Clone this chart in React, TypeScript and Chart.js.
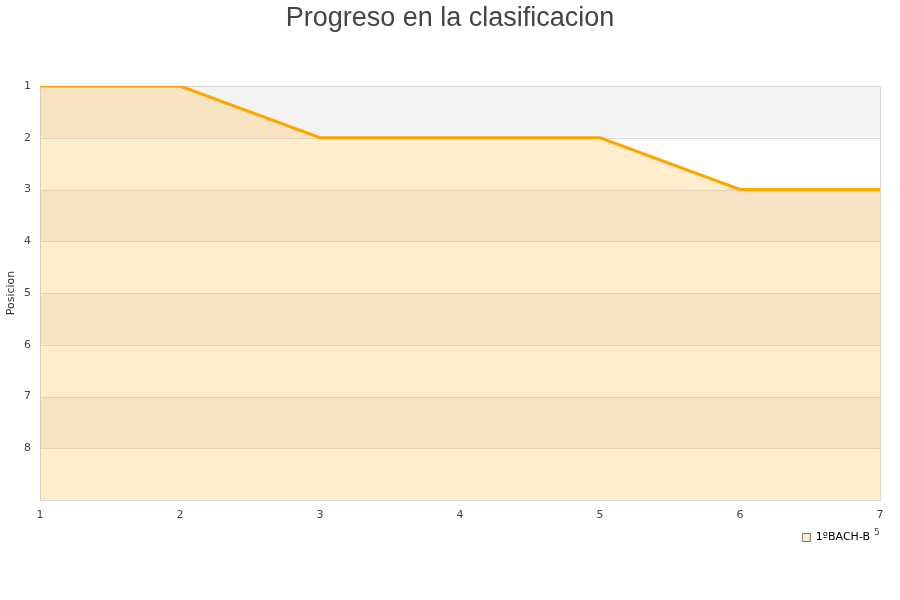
import React, { useEffect, useRef } from 'react';
import { Chart, registerables } from 'chart.js';

Chart.register(...registerables);

const CHART_TITLE = 'Progreso en la clasificacion';
const Y_AXIS_TITLE = 'Posicion';
const SERIES_LABEL = '1ºBACH-B';
const JORNADAS = [1, 2, 3, 4, 5, 6, 7];
const POSICIONES = [1, 1, 2, 2, 2, 3, 3];
const Y_MIN = 1;
const Y_MAX = 9;
const HIDDEN_Y_TICKS = [9];
const STRAY_NOTE = '5';

const FONT = "'DejaVu Sans', sans-serif";

const bandsPlugin = {
  id: 'bands',
  beforeDatasetsDraw(chart: any) {
    const { ctx, chartArea } = chart;
    const y = chart.scales.y;
    ctx.save();
    for (let v = Y_MIN; v < Y_MAX; v++) {
      const top = y.getPixelForValue(v);
      const bottom = y.getPixelForValue(v + 1);
      ctx.fillStyle = (v - Y_MIN) % 2 === 0 ? '#f3f3f3' : '#ffffff';
      ctx.fillRect(chartArea.left, Math.min(top, bottom), chartArea.right - chartArea.left, Math.abs(bottom - top));
    }
    ctx.strokeStyle = '#dddddd';
    ctx.lineWidth = 1;
    for (let v = Y_MIN + 1; v < Y_MAX; v++) {
      const p = Math.round(y.getPixelForValue(v)) + 0.5;
      ctx.beginPath();
      ctx.moveTo(chartArea.left, p);
      ctx.lineTo(chartArea.right, p);
      ctx.stroke();
    }
    ctx.strokeStyle = '#d6d6d6';
    ctx.strokeRect(
      Math.round(chartArea.left) + 0.5,
      Math.round(chartArea.top) + 0.5,
      Math.round(chartArea.right - chartArea.left),
      Math.round(chartArea.bottom - chartArea.top)
    );
    ctx.restore();
  },
  afterDraw(chart: any) {
    const { ctx } = chart;
    ctx.save();
    ctx.fillStyle = '#444';
    ctx.font = "27px 'Liberation Sans', Arial, sans-serif";
    ctx.textAlign = 'center';
    ctx.textBaseline = 'alphabetic';
    ctx.fillText(CHART_TITLE, 450, 26);
    ctx.font = `9px ${FONT}`;
    ctx.textAlign = 'left';
    ctx.textBaseline = 'middle';
    ctx.fillText(STRAY_NOTE, 874, 533);
    ctx.restore();
  },
};

export default function App() {
  const ref = useRef<HTMLCanvasElement | null>(null);

  useEffect(() => {
    if (!ref.current) return;
    const chart = new Chart(ref.current, {
      type: 'line',
      data: {
        datasets: [
          {
            label: SERIES_LABEL,
            data: JORNADAS.map((x, i) => ({ x, y: POSICIONES[i] })),
            borderColor: '#ffa500',
            borderWidth: 3,
            backgroundColor: 'rgba(255,165,0,0.2)',
            fill: { value: Y_MAX },
            pointRadius: 0,
            tension: 0,
          },
        ],
      },
      plugins: [bandsPlugin],
      options: {
        responsive: false,
        animation: false,
        layout: { padding: { top: 86, right: 20, bottom: 47, left: 0 } },
        plugins: {
          title: { display: false },
          legend: {
            display: true,
            position: 'bottom',
            align: 'end',
            labels: {
              boxWidth: 8,
              boxHeight: 8,
              padding: 10,
              color: '#111',
              font: { family: FONT, size: 11 },
              generateLabels: () => [
                {
                  text: SERIES_LABEL,
                  fillStyle: '#ffedcc',
                  strokeStyle: '#777',
                  lineWidth: 1,
                  hidden: false,
                  datasetIndex: 0,
                },
              ],
            },
          },
          tooltip: { enabled: false },
        },
        scales: {
          x: {
            type: 'linear',
            min: JORNADAS[0],
            max: JORNADAS[JORNADAS.length - 1],
            grid: { display: false, drawTicks: false },
            border: { display: false },
            ticks: { stepSize: 1, color: '#444', padding: 9, font: { family: FONT, size: 11 } },
            afterFit: (s: any) => {
              s.height = 22;
            },
          },
          y: {
            reverse: true,
            min: Y_MIN,
            max: Y_MAX,
            grid: { display: false, drawTicks: false },
            border: { display: false },
            title: {
              display: true,
              text: Y_AXIS_TITLE,
              color: '#333',
              font: { family: FONT, size: 11 },
              padding: { top: 5, bottom: 0 },
            },
            ticks: {
              stepSize: 1,
              color: '#444',
              padding: 9,
              font: { family: FONT, size: 11 },
              callback: (v: any) => (HIDDEN_Y_TICKS.includes(Number(v)) ? '' : String(v)),
            },
            afterFit: (s: any) => {
              s.width = 40;
            },
          },
        },
      },
    });
    return () => chart.destroy();
  }, []);

  return (
    <div style={{ position: 'fixed', left: 0, top: 0, width: 900, height: 600, background: '#fff' }}>
      <canvas ref={ref} width={900} height={600} />
    </div>
  );
}
